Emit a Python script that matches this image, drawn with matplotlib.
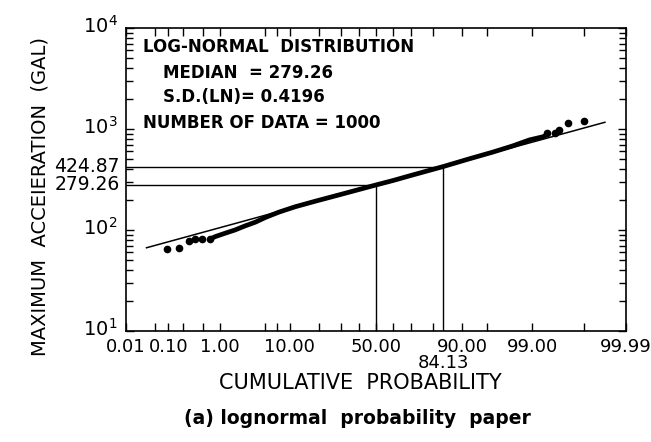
import math
import numpy as np
import matplotlib
matplotlib.use("Agg")
import matplotlib.pyplot as plt
import matplotlib.transforms as mtransforms
from matplotlib.ticker import FixedLocator, NullFormatter, LogLocator

# data
tail_p = [0.092, 0.17, 0.27, 0.36, 0.49, 0.69,
          99.46, 99.61, 99.68, 99.79, 99.90]
tail_gal = [64.5, 66.2, 78.0, 81.2, 80.7, 81.7,
            906, 907, 978, 1145, 1192]

body_p = [0.69, 0.84, 1.24, 1.81, 2.59, 3.63, 4.99, 7.38, 11.5, 18.4,
          30.0, 50.0, 60.0, 70.0, 84.13, 91.7, 95.87, 97.9, 98.88, 99.35, 99.46]
body_gal = [81.7, 86.0, 92.9, 100.2, 110, 119.5, 133, 150, 170, 193,
            225, 279.26, 309, 347.5, 424.87, 506, 590, 680, 780, 838, 880]

fit_p = [0.032, 99.967]
fit_gal = [66.7, 1166]

major_p = [0.01, 0.1, 1, 10, 50, 90, 99, 99.99]
major_lab = ["0.01", "0.10", "1.00", "10.00", "50.00", "90.00", "99.00", "99.99"]
minor_p = [0.05, 0.2, 0.5, 5, 7, 20, 30, 40, 60, 70, 80, 95, 99.9]

median = 279.26
sigma_val = 424.87


#%% normal probability scale (percent)

_a = [-3.969683028665376e+01, 2.209460984245205e+02, -2.759285104469687e+02,
      1.383577518672690e+02, -3.066479806614716e+01, 2.506628277459239e+00]
_b = [-5.447609879822406e+01, 1.615858368580409e+02, -1.556989798598866e+02,
      6.680131188771972e+01, -1.328068155288572e+01]
_c = [-7.784894002430293e-03, -3.223964580411365e-01, -2.400758277161838e+00,
      -2.549671348451373e+00, 4.374664141464968e+00, 2.938163982698783e+00]
_d = [7.784695709041462e-03, 3.224671290700398e-01, 2.445134137142996e+00,
      3.754408661907416e+00]


def _ppf1(p):
    if p < 0.02425:
        q = math.sqrt(-2 * math.log(p))
        return (((((_c[0]*q+_c[1])*q+_c[2])*q+_c[3])*q+_c[4])*q+_c[5]) / \
               ((((_d[0]*q+_d[1])*q+_d[2])*q+_d[3])*q+1)
    if p > 1 - 0.02425:
        q = math.sqrt(-2 * math.log(1 - p))
        return -(((((_c[0]*q+_c[1])*q+_c[2])*q+_c[3])*q+_c[4])*q+_c[5]) / \
                ((((_d[0]*q+_d[1])*q+_d[2])*q+_d[3])*q+1)
    q = p - 0.5
    r = q * q
    return (((((_a[0]*r+_a[1])*r+_a[2])*r+_a[3])*r+_a[4])*r+_a[5])*q / \
           (((((_b[0]*r+_b[1])*r+_b[2])*r+_b[3])*r+_b[4])*r+1)


def fwd(pct):
    pct = np.clip(np.asarray(pct, dtype=float), 1e-7, 100 - 1e-7)
    return np.vectorize(_ppf1, otypes=[float])(pct / 100.0)


def inv(z):
    z = np.asarray(z, dtype=float)
    return np.vectorize(lambda v: 50.0 * (1 + math.erf(v / math.sqrt(2))),
                        otypes=[float])(z)


#%%

plt.rcParams['font.family'] = ['DejaVu Sans']
fig = plt.figure(figsize=(6.51, 4.42), dpi=100)
ax = fig.add_axes([126/651, 1 - 331/442, 500/651, 303/442])

ax.set_xscale('function', functions=(fwd, inv))
ax.set_yscale('log')
ax.set_xlim(0.01, 99.99)
ax.set_ylim(10, 10000)

# reference lines
ax.plot([0.01, 50], [median, median], color='black', lw=1.0)
ax.plot([0.01, 84.13], [sigma_val, sigma_val], color='black', lw=1.0)
ax.plot([50, 50], [10, median], color='black', lw=1.0)
ax.plot([84.13, 84.13], [10, sigma_val], color='black', lw=1.0)

# fitted log-normal line and data
ax.plot(fit_p, fit_gal, color='black', lw=1.1)
ax.plot(body_p, body_gal, color='black', lw=3.4, solid_capstyle='round')
ax.plot(tail_p, tail_gal, 'o', color='black', ms=4.5)

# ticks
ax.xaxis.set_major_locator(FixedLocator(major_p))
ax.xaxis.set_minor_locator(FixedLocator(minor_p))
ax.set_xticklabels(major_lab)
ax.xaxis.set_minor_formatter(NullFormatter())
ax.yaxis.set_major_locator(FixedLocator([10, 100, 1000, 10000]))
ax.set_yticklabels([r'$\mathregular{10^1}$', r'$\mathregular{10^2}$',
                    r'$\mathregular{10^3}$', r'$\mathregular{10^4}$'])
ax.yaxis.set_minor_locator(LogLocator(base=10, subs=np.arange(2, 10)))
ax.yaxis.set_minor_formatter(NullFormatter())

ax.tick_params(which='both', direction='in', top=True, right=True,
               width=1.0, colors='black')
ax.tick_params(axis='x', which='both', length=6, pad=5, labelsize=13)
ax.tick_params(axis='y', which='major', length=6, pad=6, labelsize=14)
ax.tick_params(axis='y', which='minor', length=5)
for sp in ax.spines.values():
    sp.set_linewidth(1.2)

# the decade labels sit a little above their ticks
shift = mtransforms.ScaledTranslation(0, 3/72, fig.dpi_scale_trans)
for lab in ax.get_yticklabels():
    lab.set_transform(lab.get_transform() + shift)

# extra value labels
trans_y = ax.get_yaxis_transform()
ax.text(-0.012, sigma_val, "424.87", transform=trans_y, ha='right',
        va='center', fontsize=13.5)
ax.text(-0.012, median, "279.26", transform=trans_y, ha='right',
        va='center', fontsize=13.5)
trans_x = ax.get_xaxis_transform()
ax.text(84.13, -0.105, "84.13", transform=trans_x, ha='center',
        va='center', fontsize=13)

# annotation block
kw = dict(transform=ax.transAxes, fontsize=12, fontweight='bold', va='center')
ax.text(0.034, 0.936, "LOG-NORMAL  DISTRIBUTION", **kw)
ax.text(0.074, 0.852, "MEDIAN  = 279.26", **kw)
ax.text(0.074, 0.772, "S.D.(LN)= 0.4196", **kw)
ax.text(0.034, 0.688, "NUMBER OF DATA = 1000", **kw)

fig.text(360/651, 1 - 383/442, "CUMULATIVE  PROBABILITY", ha='center',
         va='center', fontsize=15)
fig.text(40/651, 1 - 197/442, "MAXIMUM  ACCEIERATION  (GAL)", ha='center',
         va='center', rotation=90, fontsize=14)
fig.text(357/651, 1 - 419/442, "(a) lognormal  probability  paper",
         ha='center', va='center', fontsize=13.5, fontweight='bold')

fig.savefig("out.png", dpi=100)
